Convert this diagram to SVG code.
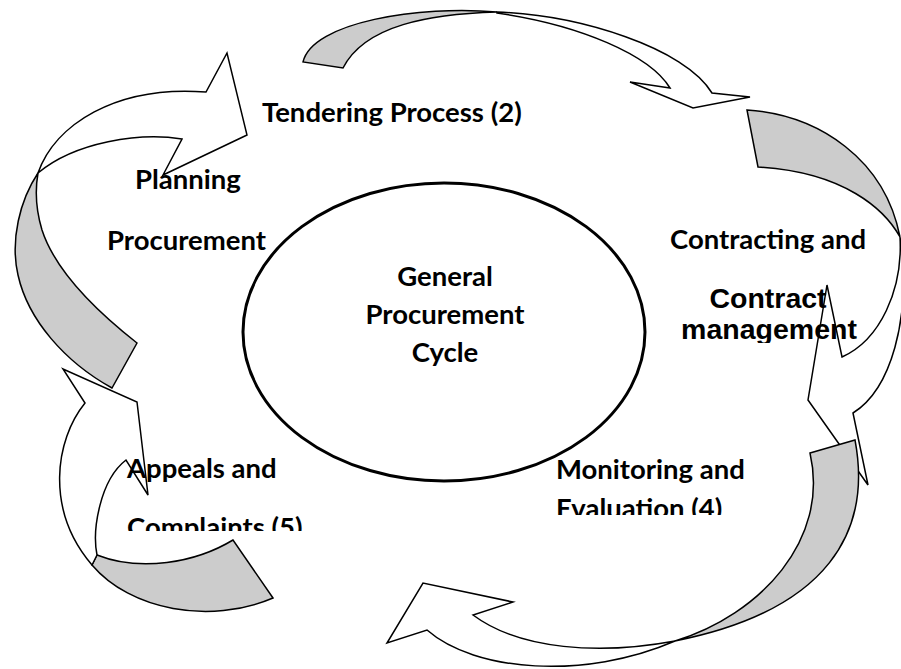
<svg xmlns="http://www.w3.org/2000/svg" width="901" height="669" viewBox="0 0 901 669">
  <style>
    .band-back { fill: #cccccc; stroke: #000; stroke-width: 1.5; stroke-linejoin: miter; }
    .band-front { fill: #ffffff; stroke: #000; stroke-width: 1.5; stroke-linejoin: miter; }
    .hub { fill: #ffffff; stroke: #000; stroke-width: 3; }
    .label { font-family: Lato, "Open Sans", "Liberation Sans", sans-serif; font-weight: bold; font-size: 27.5px; fill: #000; }
    .label-alt { font-family: "Liberation Sans", Arial, sans-serif; font-weight: bold; font-size: 28.5px; fill: #000; }
    .mid { text-anchor: middle; }
  </style>
  <defs>
    <clipPath id="clip-contract"><rect x="600" y="200" width="301" height="143"/></clipPath>
    <clipPath id="clip-monitoring"><rect x="540" y="440" width="260" height="75"/></clipPath>
    <clipPath id="clip-appeals"><rect x="110" y="440" width="220" height="91"/></clipPath>
  </defs>

  <rect width="901" height="669" fill="#ffffff"/>

  <!-- curved arrows linking the stages -->
  <g id="connectors">
    <g id="arrow-planning-tendering">
      <path class="band-back" d="M38,173 C20,200 10,240 18,275 C28,320 65,362 112,388 L137,343 C95,310 55,270 42,230 C36,210 35,190 38,173 Z"/>
      <path class="band-front" d="M38,173 C55,125 115,85 206,92 L227,53 L247,135 L163,175 L182,139 C140,132 75,142 38,173 Z"/>
    </g>
    <g id="arrow-tendering-contracting">
      <path class="band-back" d="M303,62 C312,22 420,5 497,12 C430,14 365,25 343,68 Z"/>
      <path class="band-front" d="M497,12 C580,15 685,48 712,93 L750,97 L693,108 L630,82 L670,88 C650,55 580,25 497,13 Z"/>
    </g>
    <g id="arrow-contracting-monitoring">
      <path class="band-back" d="M747,110 C820,115 885,160 900,237 C885,210 845,172 758,167 Z"/>
      <path class="band-front" d="M900,237 C903,290 880,340 842,357 L827,285 L808,400 L868,485 L853,413 C890,390 912,320 900,237 Z"/>
    </g>
    <g id="arrow-monitoring-appeals">
      <path class="band-back" d="M810,453 L855,440 C872,530 830,610 675,641 C760,615 830,540 810,453 Z"/>
      <path class="band-front" d="M675,641 C600,655 520,650 473,615 L513,602 L423,583 L387,643 L427,630 C475,672 585,680 675,641 Z"/>
    </g>
    <g id="arrow-appeals-planning">
      <path class="band-back" d="M233,540 C195,563 140,572 97,555 L92,565 C130,610 210,625 273,598 Z"/>
      <path class="band-front" d="M97,555 C92,530 100,480 126,460 L148,495 L137,402 L63,369 L85,403 C55,440 45,510 92,565 Z"/>
    </g>
  </g>

  <!-- central hub -->
  <g id="node-cycle">
    <ellipse class="hub" cx="444" cy="332" rx="201" ry="149"/>
    <text class="label mid" x="445" y="286">General</text>
    <text class="label mid" x="445" y="324">Procurement</text>
    <text class="label mid" x="445" y="362">Cycle</text>
  </g>

  <g id="node-planning">
    <text class="label" x="135" y="189">Planning</text>
    <text class="label" x="107" y="250">Procurement</text>
  </g>

  <g id="node-tendering">
    <text class="label" x="262" y="122">Tendering Process (2)</text>
  </g>

  <g id="node-contracting">
    <text class="label" x="670" y="249">Contracting and</text>
    <g clip-path="url(#clip-contract)">
      <text class="label-alt mid" x="768" y="308">Contract</text>
      <text class="label-alt mid" x="769" y="339">management</text>
    </g>
  </g>

  <g id="node-monitoring">
    <text class="label" x="556" y="479">Monitoring and</text>
    <g clip-path="url(#clip-monitoring)">
      <text class="label" x="556" y="518">Evaluation (4)</text>
    </g>
  </g>

  <g id="node-appeals">
    <text class="label" x="127" y="478">Appeals and</text>
    <g clip-path="url(#clip-appeals)">
      <text class="label" x="127" y="537">Complaints (5)</text>
    </g>
  </g>
</svg>
